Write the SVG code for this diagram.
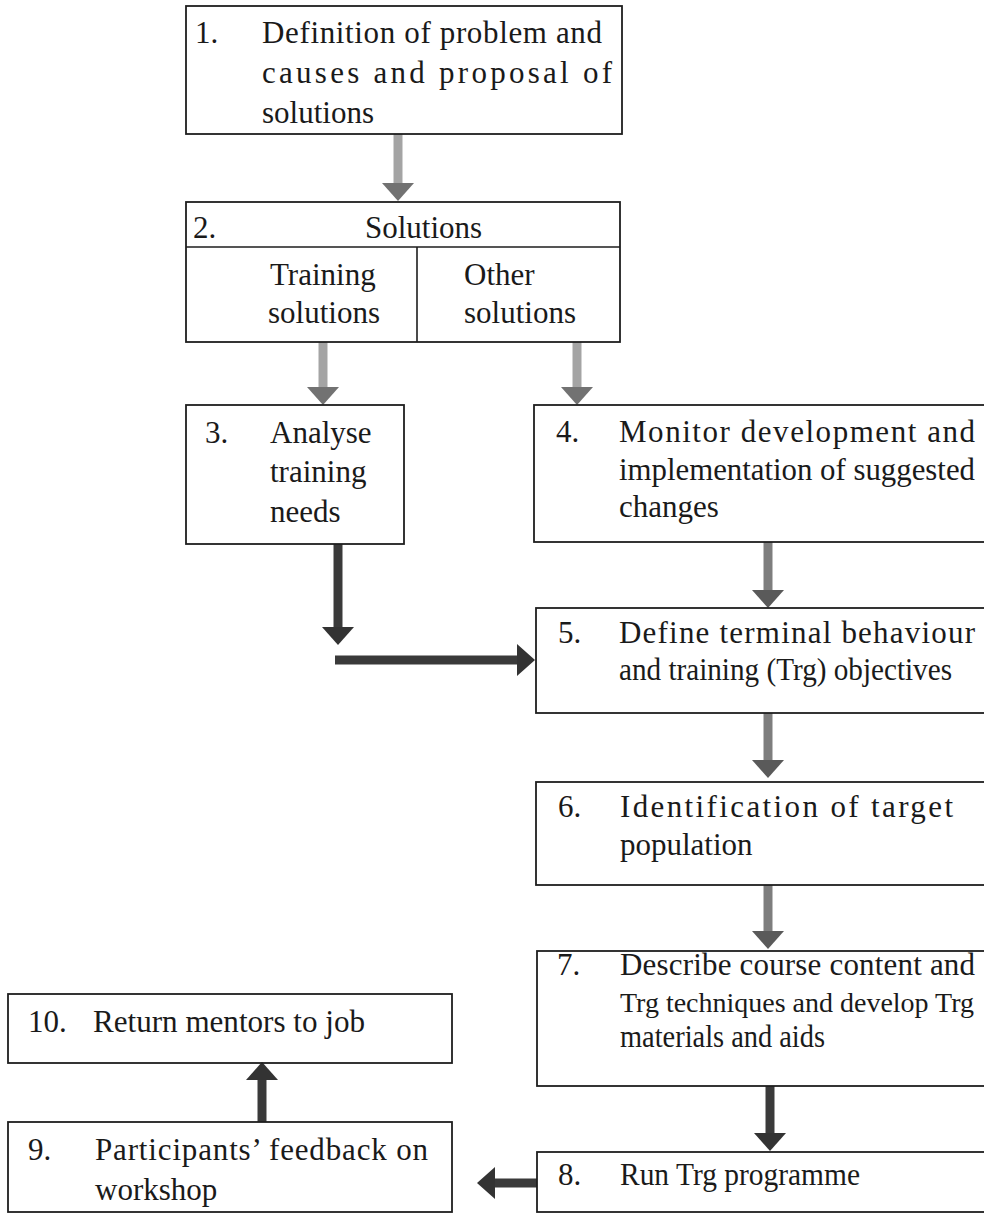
<svg xmlns="http://www.w3.org/2000/svg" width="984" height="1214" viewBox="0 0 984 1214">
<style>
  .box{fill:none;stroke:#1e1e1e;stroke-width:1.8}
  .div{fill:none;stroke:#1e1e1e;stroke-width:1.6}
  text{font-family:"Liberation Serif","Times New Roman",serif;font-size:31px;fill:#1a1a1a}
  text.nar{font-size:28px}
  .sl{stroke:#a4a4a4;stroke-width:9;fill:none}
  .sm{stroke:#7e7e7e;stroke-width:9;fill:none}
  .sd{stroke:#3a3a3a;stroke-width:9;fill:none}
</style>
<defs>
  <marker id="hl" viewBox="0 0 18 32" markerWidth="18" markerHeight="32" markerUnits="userSpaceOnUse" refX="1" refY="16" orient="auto">
    <path d="M0,0 L18,16 L0,32 Z" fill="#727272"/>
  </marker>
  <marker id="hm" viewBox="0 0 18 32" markerWidth="18" markerHeight="32" markerUnits="userSpaceOnUse" refX="1" refY="16" orient="auto">
    <path d="M0,0 L18,16 L0,32 Z" fill="#5a5a5a"/>
  </marker>
  <marker id="hd" viewBox="0 0 18 32" markerWidth="18" markerHeight="32" markerUnits="userSpaceOnUse" refX="1" refY="16" orient="auto">
    <path d="M0,0 L18,16 L0,32 Z" fill="#333333"/>
  </marker>
</defs>
<rect width="984" height="1214" fill="#ffffff"/>

<g id="connectors">
  <line class="sl" x1="398" y1="134" x2="398" y2="184" marker-end="url(#hl)"/>
  <line class="sl" x1="323" y1="342" x2="323" y2="388" marker-end="url(#hl)"/>
  <line class="sl" x1="577" y1="342" x2="577" y2="388" marker-end="url(#hl)"/>
  <line class="sm" x1="768" y1="542" x2="768" y2="591" marker-end="url(#hm)"/>
  <line class="sd" x1="338" y1="544" x2="338" y2="628" marker-end="url(#hd)"/>
  <line class="sd" x1="335" y1="660" x2="518" y2="660" marker-end="url(#hd)"/>
  <line class="sm" x1="768" y1="713" x2="768" y2="761" marker-end="url(#hm)"/>
  <line class="sm" x1="768" y1="885" x2="768" y2="932" marker-end="url(#hm)"/>
  <line class="sd" x1="770" y1="1086" x2="770" y2="1134" marker-end="url(#hd)"/>
  <line class="sd" x1="537" y1="1183" x2="494" y2="1183" marker-end="url(#hd)"/>
  <line class="sd" x1="262" y1="1122" x2="262" y2="1079" marker-end="url(#hd)"/>
</g>

<g id="n1">
  <rect class="box" x="186" y="6" width="436" height="128"/>
  <text x="195" y="43">1.</text>
  <text x="262" y="43" textLength="340" lengthAdjust="spacing">Definition of problem and</text>
  <text x="262" y="83" textLength="350" lengthAdjust="spacing">causes and proposal of</text>
  <text x="262" y="123">solutions</text>
</g>

<g id="n2">
  <rect class="box" x="186" y="202" width="434" height="140"/>
  <path class="div" d="M186,247 H620 M417,247 V342"/>
  <text x="193" y="238">2.</text>
  <text x="365" y="238">Solutions</text>
  <text x="270" y="285">Training</text>
  <text x="268" y="323">solutions</text>
  <text x="464" y="285">Other</text>
  <text x="464" y="323">solutions</text>
</g>

<g id="n3">
  <rect class="box" x="186" y="405" width="218" height="139"/>
  <text x="205" y="443">3.</text>
  <text x="270" y="443">Analyse</text>
  <text x="270" y="482">training</text>
  <text x="270" y="522">needs</text>
</g>

<g id="n4">
  <rect class="box" x="534" y="405" width="460" height="137"/>
  <text x="556" y="442">4.</text>
  <text x="619" y="442" textLength="356" lengthAdjust="spacing">Monitor development and</text>
  <text x="619" y="480" textLength="356" lengthAdjust="spacingAndGlyphs">implementation of suggested</text>
  <text x="619" y="517">changes</text>
</g>

<g id="n5">
  <rect class="box" x="536" y="608" width="460" height="105"/>
  <text x="558" y="643">5.</text>
  <text x="619" y="643" textLength="356" lengthAdjust="spacing">Define terminal behaviour</text>
  <text x="619" y="680" textLength="333" lengthAdjust="spacingAndGlyphs">and training (Trg) objectives</text>
</g>

<g id="n6">
  <rect class="box" x="536" y="782" width="460" height="103"/>
  <text x="558" y="817">6.</text>
  <text x="620" y="817" textLength="333" lengthAdjust="spacing">Identification of target</text>
  <text x="620" y="855">population</text>
</g>

<g id="n7">
  <rect class="box" x="537" y="951" width="460" height="135"/>
  <text x="557" y="975">7.</text>
  <text x="620" y="975" textLength="355" lengthAdjust="spacing">Describe course content and</text>
  <text class="nar" x="620" y="1012" textLength="354" lengthAdjust="spacingAndGlyphs">Trg techniques and develop Trg</text>
  <text x="620" y="1047" textLength="205" lengthAdjust="spacingAndGlyphs">materials and aids</text>
</g>

<g id="n8">
  <rect class="box" x="537" y="1152" width="460" height="60"/>
  <text x="558" y="1185">8.</text>
  <text x="620" y="1185" textLength="240" lengthAdjust="spacingAndGlyphs">Run Trg programme</text>
</g>

<g id="n9">
  <rect class="box" x="8" y="1122" width="444" height="90"/>
  <text x="28" y="1160">9.</text>
  <text x="95" y="1160" textLength="333" lengthAdjust="spacing">Participants’ feedback on</text>
  <text x="95" y="1200">workshop</text>
</g>

<g id="n10">
  <rect class="box" x="8" y="994" width="444" height="69"/>
  <text x="28" y="1032">10.</text>
  <text x="93" y="1032" textLength="272" lengthAdjust="spacingAndGlyphs">Return mentors to job</text>
</g>
</svg>
